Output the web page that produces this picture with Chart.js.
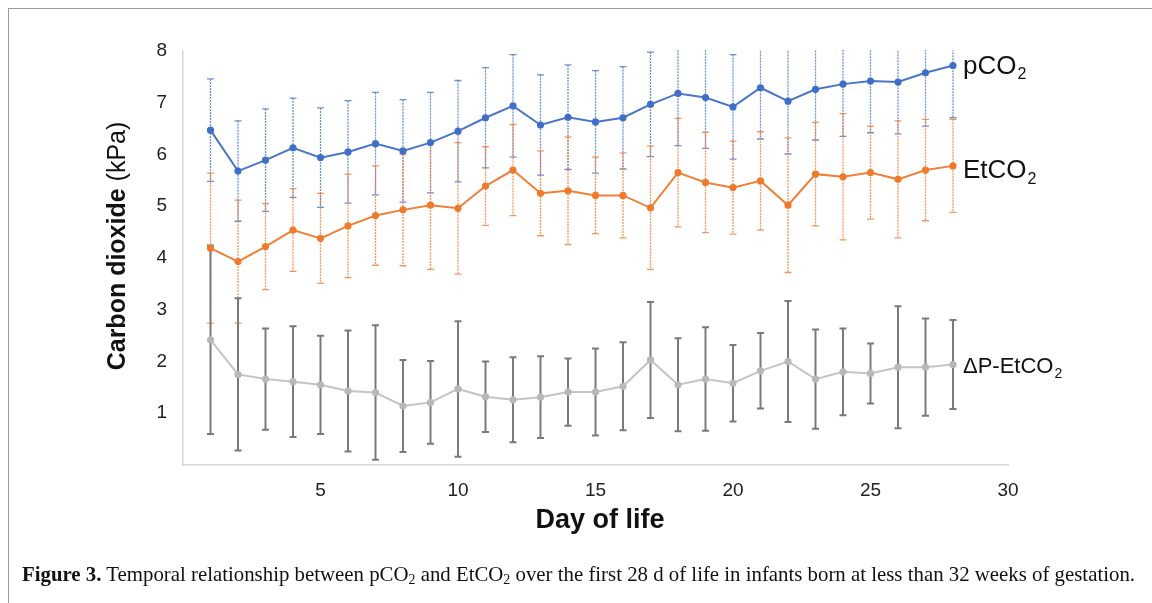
<!DOCTYPE html>
<html>
<head>
<meta charset="utf-8">
<script src="https://cdn.jsdelivr.net/npm/chart.js@4.4.1/dist/chart.umd.min.js"></script>
<style>
  html, body { margin: 0; padding: 0; background: #fff; }
  #wrap { position: relative; width: 1152px; height: 603px; overflow: hidden; }
  #frame { position: absolute; left: 8px; top: 8px; width: 1200px; height: 700px;
           border-left: 1px solid #9a9a9a; border-top: 1px solid #9a9a9a; }
  #chart { position: absolute; left: 0; top: 0; }
  #caption { position: absolute; left: 22px; top: 562px; white-space: nowrap;
             font-family: "Liberation Serif", "DejaVu Serif", serif; font-size: 21px; color: #111;
             transform-origin: 0 0; }
  #caption sub { font-size: 14px; vertical-align: -3px; line-height: 0; }
</style>
</head>
<body>
<div id="wrap">
  <div id="frame"></div>
  <canvas id="chart" width="1152" height="603"></canvas>
  <div id="caption"><b>Figure 3.</b> Temporal relationship between pCO<sub>2</sub> and EtCO<sub>2</sub> over the first 28 d of life in infants born at less than 32 weeks of gestation.</div>
</div>
<script>
const days = [1, 2, 3, 4, 5, 6, 7, 8, 9, 10, 11, 12, 13, 14, 15, 16, 17, 18, 19, 20, 21, 22, 23, 24, 25, 26, 27, 28];

const pco2Mean = [6.47, 5.68, 5.89, 6.13, 5.94, 6.05, 6.21, 6.07, 6.23, 6.45, 6.71, 6.94, 6.57, 6.72,
                  6.63, 6.71, 6.97, 7.18, 7.10, 6.92, 7.29, 7.03, 7.26, 7.36, 7.42, 7.40, 7.58, 7.72];
const pco2Sd = [0.99, 0.97, 0.99, 0.96, 0.96, 0.99, 0.99, 0.99, 0.97, 0.98, 0.97, 0.99, 0.97, 1.01,
                0.99, 0.99, 1.01, 1.01, 0.98, 1.01, 0.99, 1.02, 0.98, 1.01, 1.00, 1.00, 1.03, 1.01];

const etco2Mean = [4.19, 3.93, 4.22, 4.54, 4.38, 4.62, 4.82, 4.93, 5.02, 4.96, 5.39, 5.70, 5.25, 5.30,
                   5.21, 5.21, 4.97, 5.65, 5.46, 5.36, 5.49, 5.02, 5.62, 5.57, 5.65, 5.52, 5.70, 5.78];
const etco2Sd = [1.45, 1.19, 0.83, 0.80, 0.87, 1.00, 0.96, 1.08, 1.24, 1.27, 0.76, 0.88, 0.82, 1.04,
                 0.74, 0.82, 1.19, 1.05, 0.97, 0.90, 0.95, 1.30, 1.00, 1.22, 0.90, 1.13, 0.98, 0.90];

const deltaMean = [2.42, 1.75, 1.66, 1.61, 1.55, 1.43, 1.40, 1.14, 1.21, 1.47, 1.32, 1.26, 1.31, 1.41,
                   1.41, 1.52, 2.03, 1.55, 1.66, 1.58, 1.82, 2.00, 1.66, 1.80, 1.77, 1.89, 1.89, 1.94];
const deltaSd = [1.82, 1.47, 0.98, 1.07, 0.95, 1.17, 1.30, 0.89, 0.80, 1.31, 0.68, 0.82, 0.79, 0.65,
                 0.84, 0.85, 1.12, 0.90, 1.00, 0.74, 0.73, 1.17, 0.96, 0.84, 0.58, 1.18, 0.94, 0.86];

const seriesNames = ['pCO', 'EtCO', 'ΔP-EtCO'];
const xTicks = [5, 10, 15, 20, 25, 30];
const yTicks = [1, 2, 3, 4, 5, 6, 7, 8];

const FONT = '"Liberation Sans", Arial, sans-serif';

const toPoints = means => days.map((d, i) => ({ x: d, y: means[i] }));

// error bars, drawn under the lines
const errorBars = {
  id: 'errorBars',
  beforeDatasetsDraw: chart => {
    const ctx = chart.ctx;
    const xs = chart.scales.x, ys = chart.scales.y;
    const area = chart.chartArea;
    ctx.save();
    ctx.beginPath();
    ctx.rect(area.left, area.top - 1, area.right - area.left, area.bottom - area.top + 1);
    ctx.clip();
    chart.data.datasets.forEach(ds => {
      ctx.strokeStyle = ds.errColor;
      ctx.lineWidth = ds.errWidth;
      ctx.setLineDash(ds.errDash);
      ds.sd.forEach((sd, i) => {
        const p = ds.data[i];
        const x = xs.getPixelForValue(p.x);
        const top = ys.getPixelForValue(p.y + sd);
        const bot = ys.getPixelForValue(p.y - sd);
        ctx.beginPath();
        ctx.moveTo(x, top);
        ctx.lineTo(x, bot);
        ctx.stroke();
        ctx.setLineDash([]);
        ctx.beginPath();
        ctx.moveTo(x - 3.5, top); ctx.lineTo(x + 3.5, top);
        ctx.moveTo(x - 3.5, bot); ctx.lineTo(x + 3.5, bot);
        ctx.stroke();
        ctx.setLineDash(ds.errDash);
      });
    });
    ctx.restore();
  }
};

// series labels at the line ends plus the two axis titles
const labelsAndTitles = {
  id: 'labelsAndTitles',
  afterDraw: chart => {
    const ctx = chart.ctx;
    const xs = chart.scales.x, ys = chart.scales.y;
    ctx.save();
    ctx.fillStyle = '#111';
    ctx.textBaseline = 'middle';
    const sizes = [26, 26, 22];
    const dy = [1, 5, 2];
    chart.data.datasets.forEach((ds, k) => {
      const last = ds.data[ds.data.length - 1];
      let x = xs.getPixelForValue(last.x) + 10;
      const y = ys.getPixelForValue(last.y) + dy[k];
      ctx.font = sizes[k] + 'px ' + FONT;
      ctx.textAlign = 'left';
      ctx.fillText(seriesNames[k], x, y);
      x += ctx.measureText(seriesNames[k]).width;
      ctx.font = Math.round(sizes[k] * 0.62) + 'px ' + FONT;
      ctx.fillText('2', x + 1, y + sizes[k] * 0.32);
    });

    // y title: bold part + regular part
    const a = 'Carbon dioxide ', b = '(kPa)';
    ctx.font = 'bold 25px ' + FONT;
    const wa = ctx.measureText(a).width;
    ctx.font = '25px ' + FONT;
    const wb = ctx.measureText(b).width;
    ctx.translate(118, 246);
    ctx.rotate(-Math.PI / 2);
    ctx.textAlign = 'left';
    ctx.font = 'bold 25px ' + FONT;
    ctx.fillText(a, -(wa + wb) / 2, 0);
    ctx.font = '25px ' + FONT;
    ctx.fillText(b, -(wa + wb) / 2 + wa, 0);
    ctx.setTransform(1, 0, 0, 1, 0, 0);

    ctx.font = 'bold 27px ' + FONT;
    ctx.textAlign = 'center';
    ctx.fillText('Day of life', 600, 521);
    ctx.restore();
  }
};

const mkSet = (name, means, sds, line, pt, errColor, errWidth, errDash) => ({
  label: name,
  data: toPoints(means),
  sd: sds,
  borderColor: line,
  backgroundColor: pt,
  pointBackgroundColor: pt,
  pointBorderColor: pt,
  borderWidth: 2,
  pointRadius: 2.6,
  tension: 0,
  errColor: errColor,
  errWidth: errWidth,
  errDash: errDash
});

new Chart(document.getElementById('chart'), {
  type: 'line',
  plugins: [errorBars, labelsAndTitles],
  data: {
    datasets: [
      mkSet('pCO2', pco2Mean, pco2Sd, '#4a76c9', '#3f6fc6', 'rgba(74,118,201,0.8)', 1.3, [2, 1]),
      mkSet('EtCO2', etco2Mean, etco2Sd, '#ef8038', '#ee7a2e', 'rgba(239,128,56,0.8)', 1.3, [2, 1]),
      mkSet('ΔP-EtCO2', deltaMean, deltaSd, '#c4c4c4', '#b8b8b8', '#7a7a7a', 2, [])
    ]
  },
  options: {
    responsive: false,
    animation: false,
    layout: { padding: { top: 51, right: 144, left: 0, bottom: 98 } },
    plugins: {
      legend: { display: false },
      tooltip: { enabled: false }
    },
    scales: {
      x: {
        type: 'linear',
        min: 0,
        max: 30,
        afterFit: s => { s.height = 40; },
        afterBuildTicks: s => { s.ticks = [0].concat(xTicks).map(v => ({ value: v })); },
        grid: { display: false, drawTicks: false },
        border: { display: true, color: '#d6d6d6', width: 1.5 },
        ticks: {
          padding: 14,
          color: '#222',
          font: { family: FONT, size: 19 },
          callback: v => (v === 0 ? '' : v)
        }
      },
      y: {
        min: 0,
        max: 8,
        afterFit: s => { s.width = 183; },
        afterBuildTicks: s => { s.ticks = [0].concat(yTicks).map(v => ({ value: v })); },
        grid: { display: false, drawTicks: false },
        border: { display: true, color: '#d6d6d6', width: 1.5 },
        ticks: {
          padding: 16,
          color: '#222',
          font: { family: FONT, size: 19 },
          callback: v => (v === 0 ? '' : v)
        }
      }
    }
  }
});

// fit the caption to the width of the printed line
const cap = document.getElementById('caption');
const w = cap.getBoundingClientRect().width;
cap.style.transform = 'scaleX(' + (1113 / w) + ')';
</script>
</body>
</html>
